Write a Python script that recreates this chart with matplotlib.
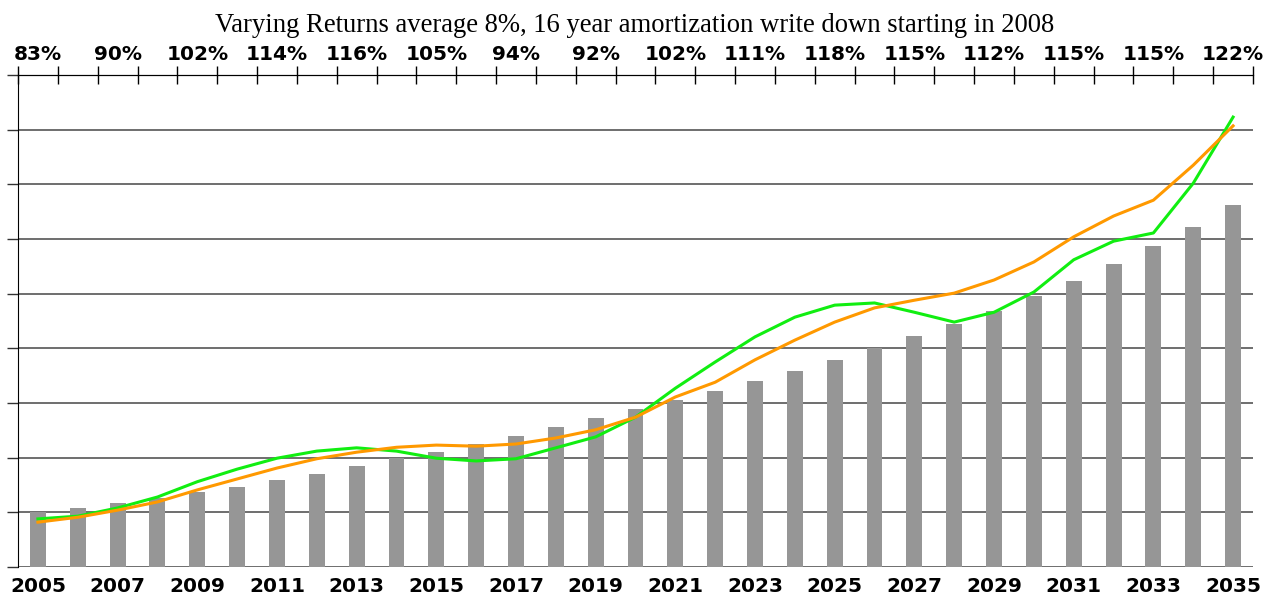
import numpy as np
import matplotlib.pyplot as plt

years = list(range(2005, 2036))
bars = [1.00, 1.08, 1.17, 1.26, 1.37, 1.46, 1.59, 1.70, 1.85, 2.00, 2.10, 2.25,
        2.40, 2.56, 2.72, 2.89, 3.05, 3.22, 3.40, 3.58, 3.79, 4.00, 4.22, 4.44,
        4.68, 4.96, 5.23, 5.54, 5.87, 6.22, 6.62]
green = [0.88, 0.93, 1.08, 1.28, 1.56, 1.79, 1.99, 2.12, 2.18, 2.12, 1.99, 1.94,
         1.98, 2.18, 2.38, 2.74, 3.27, 3.75, 4.21, 4.57, 4.79, 4.83, 4.66, 4.48,
         4.66, 5.03, 5.62, 5.96, 6.11, 7.02, 8.23]
orange = [0.82, 0.91, 1.04, 1.19, 1.41, 1.61, 1.81, 1.98, 2.10, 2.19, 2.23, 2.21,
          2.25, 2.36, 2.51, 2.74, 3.11, 3.38, 3.79, 4.15, 4.48, 4.74, 4.88, 5.01,
          5.25, 5.58, 6.04, 6.42, 6.71, 7.35, 8.07]
top_labels = ['83%', '90%', '102%', '114%', '116%', '105%', '94%', '92%',
              '102%', '111%', '118%', '115%', '112%', '115%', '115%', '122%']

x = np.arange(len(years))

fig = plt.figure(figsize=(12.69, 5.99), dpi=100)
ax = fig.add_axes([18/1269, 32/599, (1253-18)/1269, (567-75)/599])

for y in range(0, 9):
    ax.axhline(y, color='#555555', lw=1.2, zorder=1)
ax.bar(x, bars, width=0.4, color='#969696', zorder=2)
ax.plot(x, green, color='#11ee11', lw=2.2, zorder=3)
ax.plot(x, orange, color='#ff9900', lw=2.2, zorder=4)

ax.set_xlim(-0.5, len(years) - 0.5)
ax.set_ylim(0, 9)

ax.spines['right'].set_visible(False)
ax.spines['bottom'].set_visible(False)
ax.spines['top'].set_color('black')
ax.spines['left'].set_color('black')

ax.set_yticks(range(0, 10))
ax.set_yticklabels([])
ax.tick_params(axis='y', length=8, width=1, color='#333333')

ax.set_xticks(x[::2])
ax.set_xticklabels([str(y) for y in years[::2]], fontsize=14.5, fontweight='bold')
ax.tick_params(axis='x', length=0, pad=7)

ax2 = ax.twiny()
ax2.set_xlim(ax.get_xlim())
ax2.spines['right'].set_visible(False)
ax2.spines['bottom'].set_visible(False)
ax2.spines['left'].set_visible(False)
ax2.set_xticks(x[::2])
ax2.set_xticklabels(top_labels, fontsize=14.5, fontweight='bold')
ax2.tick_params(axis='x', which='major', length=0, pad=8)
ax2.set_xticks(np.arange(-0.5, len(years)), minor=True)
ax2.tick_params(axis='x', which='minor', direction='inout', length=13, width=1)

fig.suptitle('Varying Returns average 8%, 16 year amortization write down starting in 2008',
             family='Liberation Serif', fontsize=19.2, y=0.978)

plt.savefig('out.png', dpi=100)
